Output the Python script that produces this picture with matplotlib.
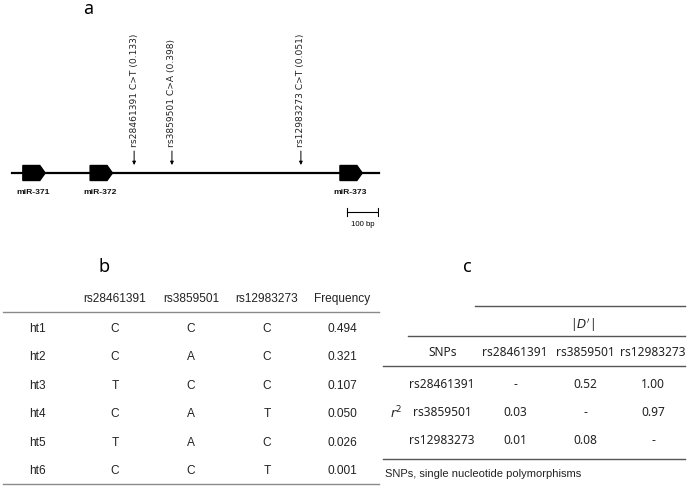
import matplotlib.pyplot as plt
from matplotlib.patches import Polygon

# ---- data ----
# panel a: genomic layout in bp (scale bar = 100 bp)
region_len = 1184
genes = ['miR-371', 'miR-372', 'miR-373']
gene_start = [35, 252, 1058]
gene_len = 72
snps = ['rs28461391', 'rs3859501', 'rs12983273']
snp_change = ['C>T', 'C>A', 'C>T']
snp_maf = ['0.133', '0.398', '0.051']
snp_pos = [394, 516, 932]
scale_start = 1081
scale_len = 100

# panel b: haplotypes
hap_names = ['ht1', 'ht2', 'ht3', 'ht4', 'ht5', 'ht6']
hap_alleles = [['C', 'C', 'C'],
               ['C', 'A', 'C'],
               ['T', 'C', 'C'],
               ['C', 'A', 'T'],
               ['T', 'A', 'C'],
               ['C', 'C', 'T']]
hap_freq = ['0.494', '0.321', '0.107', '0.050', '0.026', '0.001']

# panel c: LD matrix (upper = |D'|, lower = r^2)
ld_values = [['-', '0.52', '1.00'],
             ['0.03', '-', '0.97'],
             ['0.01', '0.08', '-']]

W, H = 689, 489
fig = plt.figure(figsize=(W / 100, H / 100), dpi=100)

# ---------------- panel a ----------------
# x in bp, y in pixels
px0, px1 = 12, 379
axa = fig.add_axes([px0 / W, 0, (px1 - px0) / W, 1])
axa.set_xlim(0, region_len)
axa.set_ylim(H, 0)
axa.axis('off')

line_y = 174
axa.plot([0, region_len], [line_y, line_y], color='black', lw=1.6, zorder=1,
         clip_on=False)
for name, start in zip(genes, gene_start):
    body = gene_len * 0.76
    pts = [(start, line_y - 7.5), (start + body, line_y - 7.5),
           (start + gene_len, line_y), (start + body, line_y + 7.5),
           (start, line_y + 7.5)]
    axa.add_patch(Polygon(pts, closed=True, color='black', zorder=2))
    axa.text(start + gene_len / 2 - 4, 193, name, ha='center', va='center',
             fontsize=6.1, fontweight='bold', family='Liberation Sans',
             color='#111111')

for name, ch, maf, pos in zip(snps, snp_change, snp_maf, snp_pos):
    axa.annotate('', xy=(pos, 166), xytext=(pos, 152),
                 arrowprops=dict(arrowstyle='-|>', color='black', lw=0.7,
                                 mutation_scale=5, shrinkA=0, shrinkB=0))
    axa.text(pos, 147, f'{name} {ch} ({maf})', rotation=90, ha='center',
             va='bottom', fontsize=6.6, family='DejaVu Sans', color='#222222')

sb_y = 213
axa.plot([scale_start, scale_start + scale_len], [sb_y, sb_y], color='black',
         lw=0.8)
for xx in (scale_start, scale_start + scale_len):
    axa.plot([xx, xx], [sb_y - 4, sb_y + 4], color='black', lw=0.8)
axa.text(scale_start + scale_len / 2, 225, '100 bp', ha='center', va='center',
         fontsize=5.6, family='Liberation Sans')

# ---------------- panels b, c (pixel coordinates) ----------------
ax = fig.add_axes([0, 0, 1, 1])
ax.set_xlim(0, W)
ax.set_ylim(H, 0)
ax.axis('off')

ax.text(88, 9, 'a', fontsize=13, ha='center', va='center', family='Noto Sans')
ax.text(104, 267, 'b', fontsize=13, ha='center', va='center', family='Noto Sans')
ax.text(467, 267, 'c', fontsize=13, ha='center', va='center', family='Noto Sans')

# panel b
fb = dict(fontsize=8.6, family='Liberation Sans', color='#222222',
          ha='center', va='center')
b_cols = [115, 191, 267, 342]
ax.text(b_cols[-1], 299, 'Frequency', **fb)
for x, s in zip(b_cols, snps):
    ax.text(x, 299, s, **fb)
b_line = dict(color='#8a8a8a', lw=1.0)
ax.plot([3, 379], [313, 313], **b_line)
row_y0, row_dy = 329, 28.4
for i, (hn, al, fq) in enumerate(zip(hap_names, hap_alleles, hap_freq)):
    y = row_y0 + i * row_dy
    ax.text(37, y, hn, **fb)
    for x, a in zip(b_cols, al):
        ax.text(x, y, a, **fb)
    ax.text(b_cols[-1], y, fq, **fb)
ax.plot([3, 379], [485, 485], **b_line)

# panel c
fc = dict(fontsize=8.6, family='Noto Sans', color='#222222',
          ha='center', va='center')
c_line = dict(color='#555555', lw=1.0)
ax.plot([475, 685], [307, 307], **c_line)
ax.text(582, 325, "|$D'$|", **fc)
ax.plot([408, 685], [337, 337], **c_line)
c_cols = [515, 585, 653]
ax.text(443, 353, 'SNPs', **fc)
for x, s in zip(c_cols, snps):
    ax.text(x, 353, s, **fc)
ax.plot([383, 685], [367, 367], **c_line)
c_y0, c_dy = 385, 28
for i, (s, vals) in enumerate(zip(snps, ld_values)):
    y = c_y0 + i * c_dy
    ax.text(442, y, s, **fc)
    for x, v in zip(c_cols, vals):
        ax.text(x, y, v, **fc)
ax.text(396, c_y0 + c_dy, '$r^2$', fontsize=9, ha='center', va='center',
        color='#222222')
ax.plot([383, 685], [460, 460], **c_line)
ax.text(385, 474, 'SNPs, single nucleotide polymorphisms', fontsize=8,
        family='Liberation Sans', color='#222222', ha='left', va='center')

fig.savefig('out.png', dpi=100)
